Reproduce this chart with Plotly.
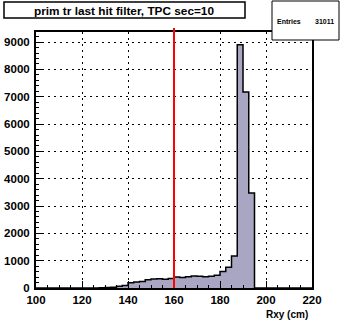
import plotly.graph_objects as go

# ---- data ----
bin_lo = 100.0
bin_width = 2.5
counts = [0, 0, 0, 0, 0, 0, 0, 0, 0, 0,
          3, 8, 15, 30, 60, 90, 190, 220, 240, 300,
          330, 340, 320, 350, 400, 385, 410, 440, 430, 410,
          430, 470, 600, 760, 1170, 8900, 7170, 3480,
          0, 0, 0, 0, 0, 0, 0, 0, 0, 0]
x_ticks = [100, 120, 140, 160, 180, 200, 220]
y_ticks = [0, 1000, 2000, 3000, 4000, 5000, 6000, 7000, 8000, 9000]
title_text = "prim tr last hit filter, TPC sec=10"
entries = "31011"
cut_value = 160

edges = [bin_lo + bin_width * i for i in range(len(counts) + 1)]
ys = counts + [counts[-1]]

W, H = 340, 328
ML, MR, MT, MB = 36, 28, 32, 40
PW, PH = W - ML - MR, H - MT - MB


def px(x):
    return (x - ML) / PW


def py(y):
    return (H - MB - y) / PH


FAM = "Liberation Sans, Arial, sans-serif"

fig = go.Figure()
fig.add_trace(go.Scatter(
    x=edges, y=ys, mode="lines", line_shape="hv",
    line=dict(color="black", width=1.5),
    fill="tozeroy", fillcolor="#a9a6c4", hoverinfo="skip"))

font_b = dict(family=FAM, size=11.5, color="black")

axis_common = dict(
    showline=True, linecolor="black", linewidth=2, mirror=True,
    ticks="inside", tickcolor="black", tickwidth=1, ticklen=7,
    showgrid=True, gridcolor="black", gridwidth=1.3, griddash="2px,4px",
    zeroline=False, tickfont=font_b, automargin=False,
)

fig.update_layout(
    width=W, height=H,
    margin=dict(l=ML, r=MR, t=MT, b=MB, autoexpand=False),
    paper_bgcolor="white", plot_bgcolor="white",
    showlegend=False,
    xaxis=dict(range=[100, 220], tickvals=x_ticks,
               ticktext=["<b>%d</b>" % v for v in x_ticks],
               minor=dict(ticks="inside", dtick=5, ticklen=3, tickcolor="black"),
               **axis_common),
    yaxis=dict(range=[0, 9370], tickvals=y_ticks,
               ticktext=["<b>%d</b>" % v for v in y_ticks],
               minor=dict(ticks="inside", dtick=200, ticklen=3, tickcolor="black"),
               **axis_common),
)
fig.update_yaxes(ticklabelstandoff=2)

# cut line
fig.add_shape(type="line", xref="x", yref="paper", x0=cut_value, x1=cut_value,
              y0=0, y1=py(28), line=dict(color="red", width=2), layer="above")

# title box
fig.add_shape(type="rect", xref="paper", yref="paper",
              x0=px(4), x1=px(245), y0=py(18), y1=py(2),
              line=dict(color="black", width=1.5), fillcolor="white", layer="above")
fig.add_annotation(xref="paper", yref="paper", x=px(124), y=py(10.5),
                   xanchor="center", yanchor="middle",
                   text="<b>" + title_text + "</b>", showarrow=False,
                   font=dict(family=FAM, size=11.8, color="black"))

# stats box
fig.add_shape(type="rect", xref="paper", yref="paper",
              x0=px(272), x1=px(339), y0=py(40), y1=py(1),
              line=dict(color="black", width=1), fillcolor="white", layer="above")
fig.add_annotation(xref="paper", yref="paper", x=px(275), y=py(21),
                   xanchor="left", yanchor="middle", text="<b>Entries</b>", showarrow=False,
                   font=dict(family=FAM, size=7, color="black"))
fig.add_annotation(xref="paper", yref="paper", x=px(336), y=py(21),
                   xanchor="right", yanchor="middle", text="<b>" + entries + "</b>", showarrow=False,
                   font=dict(family=FAM, size=7, color="black"))

# x axis title
fig.add_annotation(xref="paper", yref="paper", x=px(310), y=py(314),
                   xanchor="right", yanchor="middle", text="<b>Rxy (cm)</b>", showarrow=False,
                   font=dict(family=FAM, size=10, color="black"))

fig.write_html("out.html", config={"displayModeBar": False},
               post_script="document.body.style.margin='0';")
